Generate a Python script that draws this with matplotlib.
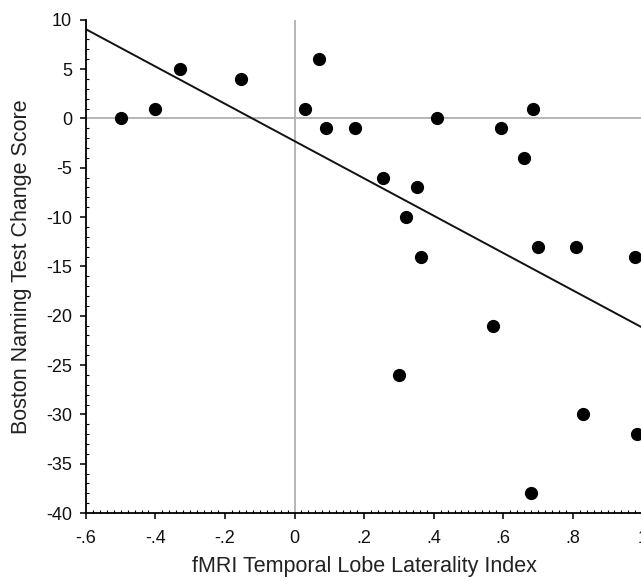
import matplotlib
matplotlib.use('Agg')
import matplotlib.pyplot as plt
import numpy as np
from matplotlib.ticker import MultipleLocator, FixedLocator

# laterality index vs BNT change
lat_index = [-0.50, -0.40, -0.33, -0.155, 0.03, 0.07, 0.09, 0.175, 0.41,
             0.595, 0.685, 0.66, 0.253, 0.353, 0.32, 0.365, 0.70, 0.81,
             0.98, 0.572, 0.30, 0.83, 0.985, 0.68]
bnt_change = [0, 1, 5, 4, 1, 6, -1, -1, 0,
              -1, 1, -4, -6, -7, -10, -14, -13, -13,
              -14, -21, -26, -30, -32, -38]

# regression line as drawn
fit_slope = -18.9
fit_intercept = -2.3

x_ticks = [-0.6, -0.4, -0.2, 0, 0.2, 0.4, 0.6, 0.8, 1.0]
x_ticklabels = ['-.6', '-.4', '-.2', '0', '.2', '.4', '.6', '.8', '1']
y_ticks = [-40, -35, -30, -25, -20, -15, -10, -5, 0, 5, 10]

plt.rcParams.update({'font.family': ['Liberation Sans', 'DejaVu Sans'],
                     'font.size': 12, 'axes.unicode_minus': False})

fig = plt.figure(figsize=(6.41, 5.81), dpi=100)
ax = fig.add_axes([0.134, 0.117, 0.868, 0.849])

ax.axhline(0, color='#b0b0b0', lw=1.3, zorder=1)
ax.axvline(0, color='#b0b0b0', lw=1.3, zorder=1)

xl = np.array([-0.6, 1.0])
ax.plot(xl, fit_intercept + fit_slope * xl, color='#111111', lw=1.4, zorder=2)
ax.plot(lat_index, bnt_change, 'o', color='black', ms=8.5, zorder=3,
        clip_on=False)

ax.set_xlim(-0.6, 1.0)
ax.set_ylim(-40, 10)
ax.xaxis.set_major_locator(FixedLocator(x_ticks))
ax.set_xticklabels(x_ticklabels)
ax.yaxis.set_major_locator(FixedLocator(y_ticks))
ax.xaxis.set_minor_locator(MultipleLocator(0.02))
ax.yaxis.set_minor_locator(MultipleLocator(1))

for s in ('top', 'right'):
    ax.spines[s].set_visible(False)
for s in ('left', 'bottom'):
    ax.spines[s].set_linewidth(1.3)

ax.tick_params(which='major', direction='out', length=4, width=1.2,
               labelsize=13, colors='#111111')
ax.tick_params(axis='x', which='major', pad=8)
ax.tick_params(axis='y', which='major', pad=6)
ax.tick_params(which='minor', direction='in', length=2, width=0.8)

ax.set_xlabel('fMRI Temporal Lobe Laterality Index', fontsize=15.5,
              color='#222222', labelpad=7)
ax.set_ylabel('Boston Naming Test Change Score', fontsize=15.5,
              color='#222222', labelpad=10)

fig.savefig('out.png', dpi=100)
